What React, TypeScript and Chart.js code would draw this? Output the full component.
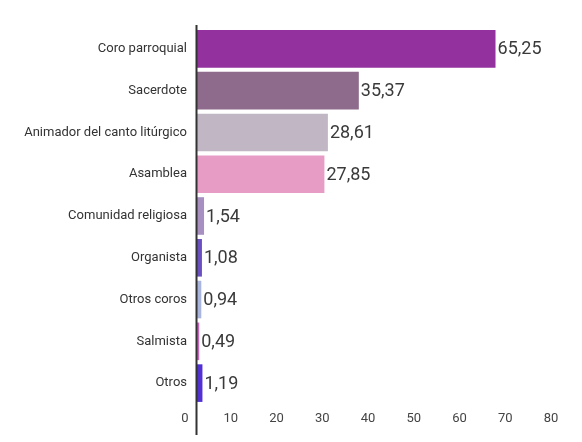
import { useEffect, useRef } from "react";
import { Chart, ChartConfiguration, Plugin, registerables } from "chart.js";

Chart.register(...registerables);

// 데이터
const categories = [
  "Coro parroquial",
  "Sacerdote",
  "Animador del canto litúrgico",
  "Asamblea",
  "Comunidad religiosa",
  "Organista",
  "Otros coros",
  "Salmista",
  "Otros",
];
const values = [65.25, 35.37, 28.61, 27.85, 1.54, 1.08, 0.94, 0.49, 1.19];
const barColors = [
  "#93329e",
  "#8e6a8c",
  "#c0b6c4",
  "#e79cc6",
  "#a78fc1",
  "#6a4fc0",
  "#a9b5dd",
  "#c865bf",
  "#5131d2",
];
const xTicks = [0, 10, 20, 30, 40, 50, 60, 70, 80];

const FONT = "Roboto, 'Noto Sans', sans-serif";

// 값 라벨 (막대 끝)
const valueLabels: Plugin<"bar"> = {
  id: "valueLabels",
  afterDatasetsDraw(chart) {
    const ctx = chart.ctx;
    const meta = chart.getDatasetMeta(0);
    ctx.save();
    ctx.font = `18px ${FONT}`;
    ctx.fillStyle = "#3a3a3a";
    ctx.textAlign = "left";
    ctx.textBaseline = "middle";
    meta.data.forEach((bar: any, i) => {
      const text = values[i].toFixed(2).replace(".", ",");
      ctx.fillText(text, bar.x + 2, bar.y + 1);
    });
    ctx.restore();
  },
};

// 세로 축선 (0 위치)
const zeroAxis: Plugin<"bar"> = {
  id: "zeroAxis",
  afterDatasetsDraw(chart) {
    const { ctx, chartArea, scales } = chart;
    const x = Math.round(scales.x.getPixelForValue(0)) - 0.5;
    ctx.save();
    ctx.strokeStyle = "#333333";
    ctx.lineWidth = 2;
    ctx.beginPath();
    ctx.moveTo(x, chartArea.top - 3);
    ctx.lineTo(x, chartArea.bottom + 31);
    ctx.stroke();
    ctx.restore();
  },
};

export default function App() {
  const canvasRef = useRef<HTMLCanvasElement>(null);
  const chartRef = useRef<Chart | null>(null);

  useEffect(() => {
    if (!canvasRef.current) return;
    const ctx = canvasRef.current.getContext("2d");
    if (!ctx) return;

    const config: ChartConfiguration<"bar"> = {
      type: "bar",
      data: {
        labels: categories,
        datasets: [
          {
            data: values,
            backgroundColor: barColors,
            borderWidth: 0,
            categoryPercentage: 1,
            barPercentage: 0.9,
          },
        ],
      },
      options: {
        indexAxis: "y",
        responsive: true,
        maintainAspectRatio: false,
        animation: false,
        layout: { padding: { top: 28, right: 19, bottom: 0, left: 0 } },
        plugins: {
          legend: { display: false },
          tooltip: { enabled: false },
        },
        scales: {
          x: {
            min: 0,
            max: 80,
            afterBuildTicks: (scale) => {
              scale.ticks = xTicks.map((v) => ({ value: v }));
            },
            afterFit: (scale) => {
              scale.height = 38;
            },
            grid: { display: false, drawTicks: false },
            border: { display: false },
            ticks: {
              padding: 7,
              labelOffset: -12,
              color: "#444444",
              font: { family: FONT, size: 13 },
            },
          },
          y: {
            afterFit: (scale) => {
              scale.width = 197;
            },
            grid: { display: false, drawTicks: false },
            border: { display: false },
            ticks: {
              padding: 10,
              color: "#333333",
              font: { family: FONT, size: 13 },
            },
          },
        },
      },
      plugins: [valueLabels, zeroAxis],
    };

    chartRef.current = new Chart(ctx, config);

    return () => {
      if (chartRef.current) {
        chartRef.current.destroy();
        chartRef.current = null;
      }
    };
  }, []);

  return (
    <div
      style={{
        position: "absolute",
        left: 0,
        top: 0,
        width: "582px",
        height: "442px",
        background: "#ffffff",
      }}
    >
      <canvas ref={canvasRef} />
    </div>
  );
}
